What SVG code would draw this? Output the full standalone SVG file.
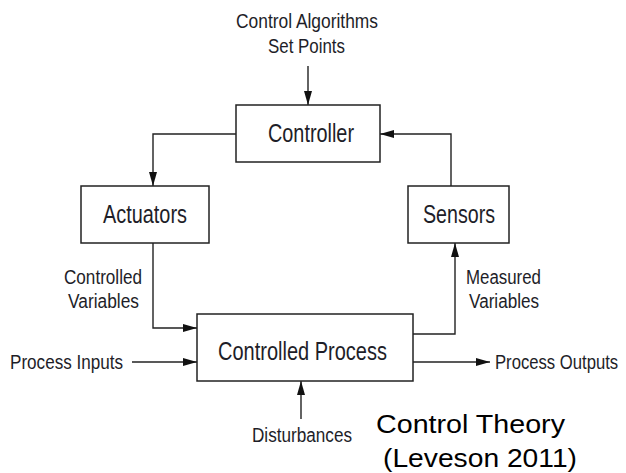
<svg xmlns="http://www.w3.org/2000/svg" width="626" height="473" viewBox="0 0 626 473">
<style>
.box{fill:#fff;stroke:#222;stroke-width:1.5}
.ln{fill:none;stroke:#222;stroke-width:1.4}
.t{font-family:"Liberation Sans Narrow","Liberation Sans",Arial,sans-serif;fill:#1e1e28}
.big{font-size:25px}
.sm{font-size:19.5px}
.title{font-family:"Liberation Sans",Arial,sans-serif;font-size:26px;fill:#000}
</style>
<defs>
<marker id="ah" markerUnits="userSpaceOnUse" markerWidth="14" markerHeight="8" refX="14" refY="4" orient="auto">
<path d="M0,0 L14,4 L0,8 z" fill="#111"/>
</marker>
</defs>
<rect width="626" height="473" fill="#fff"/>
<g id="connectors">
<path class="ln" d="M308 66 V105" marker-end="url(#ah)"/>
<path class="ln" d="M236 134 H153 V186" marker-end="url(#ah)"/>
<path class="ln" d="M451 186 V134 H380" marker-end="url(#ah)"/>
<path class="ln" d="M153 243 V328 H197" marker-end="url(#ah)"/>
<path class="ln" d="M413 334 H455 V243" marker-end="url(#ah)"/>
<path class="ln" d="M132 362 H197" marker-end="url(#ah)"/>
<path class="ln" d="M413 362 H490" marker-end="url(#ah)"/>
<path class="ln" d="M301 419 V381" marker-end="url(#ah)"/>
</g>
<g id="controller">
<rect class="box" x="236" y="105" width="144" height="57"/>
<text class="t big" x="268" y="141.5" textLength="86" lengthAdjust="spacingAndGlyphs">Controller</text>
</g>
<g id="actuators">
<rect class="box" x="81" y="186" width="128" height="57"/>
<text class="t big" x="103" y="223" textLength="84" lengthAdjust="spacingAndGlyphs">Actuators</text>
</g>
<g id="sensors">
<rect class="box" x="408" y="186" width="101" height="57"/>
<text class="t big" x="423" y="223" textLength="72" lengthAdjust="spacingAndGlyphs">Sensors</text>
</g>
<g id="process">
<rect class="box" x="197" y="314" width="216" height="67"/>
<text class="t big" x="218" y="360" textLength="169" lengthAdjust="spacingAndGlyphs">Controlled Process</text>
</g>
<g id="labels">
<text class="t sm" x="236" y="28" textLength="142" lengthAdjust="spacingAndGlyphs">Control Algorithms</text>
<text class="t sm" x="268" y="52.5" textLength="77" lengthAdjust="spacingAndGlyphs">Set Points</text>
<text class="t sm" x="64" y="284" textLength="78" lengthAdjust="spacingAndGlyphs">Controlled</text>
<text class="t sm" x="68" y="308" textLength="71" lengthAdjust="spacingAndGlyphs">Variables</text>
<text class="t sm" x="466" y="283.5" textLength="75" lengthAdjust="spacingAndGlyphs">Measured</text>
<text class="t sm" x="469" y="308" textLength="70" lengthAdjust="spacingAndGlyphs">Variables</text>
<text class="t sm" x="10" y="368.5" textLength="113" lengthAdjust="spacingAndGlyphs">Process Inputs</text>
<text class="t sm" transform="translate(495 369) scale(0.855 1)">Process Outputs</text>
<text class="t sm" x="252" y="441.5" textLength="100" lengthAdjust="spacingAndGlyphs">Disturbances</text>
<text class="title" x="376" y="433" textLength="189" lengthAdjust="spacingAndGlyphs">Control Theory</text>
<text class="title" x="383" y="467" textLength="194" lengthAdjust="spacingAndGlyphs">(Leveson 2011)</text>
</g>
</svg>
